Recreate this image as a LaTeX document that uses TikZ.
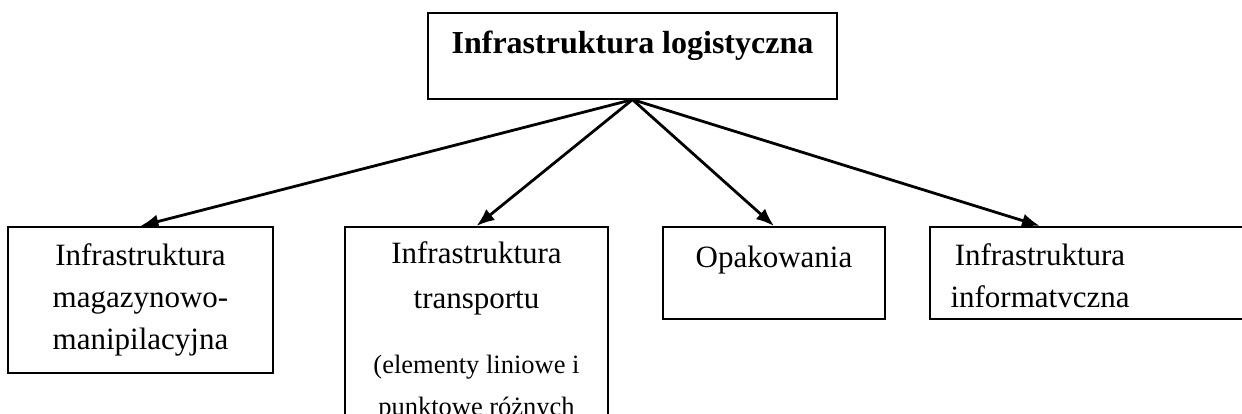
\documentclass[tikz,border=0pt]{standalone}
\usepackage{fontspec}
\setmainfont{Liberation Serif}
\usetikzlibrary{arrows.meta}

\begin{document}
\begin{tikzpicture}[x=1pt,y=-1pt,
  box/.style={draw,line width=1.6pt,inner sep=0pt,align=flush center,anchor=north,
    font=\fontsize{31}{42}\selectfont},
  boxtext/.style={inner sep=0pt,align=flush center,anchor=north,
    font=\fontsize{31}{42}\selectfont},
  arrow/.style={-{Latex[length=18pt,width=14pt]},line width=2.8pt}]

  \clip (0,0) rectangle (1242,414);

  \node[box,font=\bfseries\fontsize{32}{42}\selectfont,text width=409pt,
    text height=41pt,text depth=45pt] (infra) at (632.5,12)
    {Infrastruktura logistyczna};

  \node[box,text width=265pt,text height=39pt,text depth=107pt] (magazyn)
    at (140.5,226) {Infrastruktura\\magazynowo-\\manipilacyjna};

  \node[box,text width=263pt,text height=37pt,text depth=200pt] (transport)
    at (476.5,226) {Infrastruktura\\[3pt]transportu\\[23pt]
    {\fontsize{26.5}{42}\selectfont(elementy liniowe i\\punktowe różnych}};

  \node[box,text width=222pt,text height=41pt,text depth=51pt] (opak)
    at (774,226) {Opakowania};

  % box on the right runs off the page
  \node[box,anchor=north west,minimum width=340pt,minimum height=92pt]
    (infobox) at (929,226) {};
  \node[boxtext,text width=222pt,text height=39pt] (infotext)
    at (1040,226) {Infrastruktura\\informatvczna};

  \foreach \b in {magazyn,transport,opak,infotext}
    \draw[arrow] (infra.south) -- (\b.north);
\end{tikzpicture}
\end{document}
